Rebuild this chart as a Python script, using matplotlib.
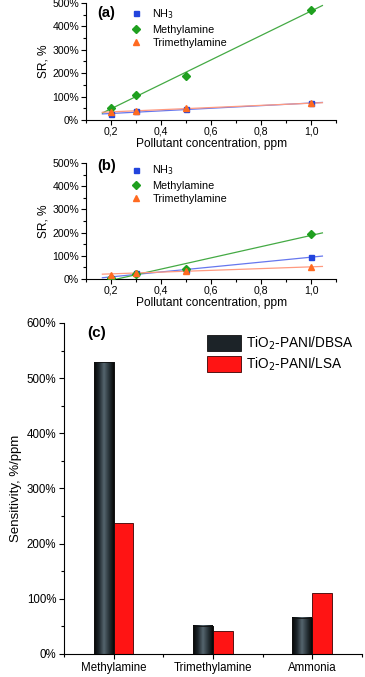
import numpy as np
import matplotlib
matplotlib.use('Agg')
import matplotlib.pyplot as plt
from matplotlib.colors import LinearSegmentedColormap
from matplotlib.patches import Patch
from matplotlib.ticker import MultipleLocator, FuncFormatter

plt.rcParams['font.family'] = ['Liberation Sans', 'DejaVu Sans']

# pollutant concentrations, ppm
conc = [0.2, 0.3, 0.5, 1.0]

# panel (a), SR %
a_nh3 = [24, 38, 45, 72]
a_methyl = [51, 108, 190, 470]
a_trimethyl = [33, 40, 51, 71]

# panel (b), SR %
b_nh3 = [6, 24, 39, 94]
b_methyl = [5, 22, 44, 196]
b_trimethyl = [19, 27, 36, 51]

# panel (c), sensitivity %/ppm
gases = ['Methylamine', 'Trimethylamine', 'Ammonia']
sens_dbsa = [529, 51, 66]
sens_lsa = [238, 42, 111]

fig = plt.figure(figsize=(3.65, 6.77), dpi=100)

pct = FuncFormatter(lambda v, p: f'{v:.0f}%')
comma = FuncFormatter(lambda v, p: f'{v:.1f}'.replace('.', ','))

def sr_panel(rect, nh3, methyl, trimethyl, tag, tag_y, leg_y):
    ax = fig.add_axes(rect)
    series = [
        (nh3, 's', '#2244dd', '#6677ee', 3.6, r'NH$_3$'),
        (methyl, 'D', '#1fa01f', '#44aa44', 4.2, 'Methylamine'),
        (trimethyl, '^', '#ff6a20', '#ff9a80', 4.6, 'Trimethylamine'),
    ]
    xfit = np.array([0.165, 1.045])
    for vals, mk, col, lcol, ms, lab in series:
        k, b = np.polyfit(conc, vals, 1)
        ax.plot(xfit, k * xfit + b, color=lcol, lw=0.9, zorder=2)
        ax.plot(conc, vals, ls='none', marker=mk, color=col, ms=ms, label=lab, zorder=3)
    ax.set_xlim(0.1, 1.1)
    ax.set_ylim(0, 500)
    ax.xaxis.set_major_locator(MultipleLocator(0.2))
    ax.xaxis.set_minor_locator(MultipleLocator(0.1))
    ax.yaxis.set_major_locator(MultipleLocator(100))
    ax.yaxis.set_minor_locator(MultipleLocator(50))
    ax.yaxis.set_major_formatter(pct)
    ax.xaxis.set_major_formatter(comma)
    for s in ['top', 'right']:
        ax.spines[s].set_visible(False)
    ax.tick_params(which='major', direction='out', length=3.5, width=0.8, labelsize=7.6, pad=1.5)
    ax.tick_params(which='minor', direction='out', length=2, width=0.8)
    ax.set_xlabel('Pollutant concentration, ppm', fontsize=8.6, labelpad=1)
    ax.set_ylabel('SR, %', fontsize=8.6, labelpad=2)
    ax.text(0.045, tag_y, tag, transform=ax.transAxes, fontsize=10.5, fontweight='bold', va='center')
    ax.legend(loc='upper left', bbox_to_anchor=(0.161, leg_y), frameon=False, fontsize=7.8,
              handlelength=1.0, handletextpad=1.0, labelspacing=0.32, borderaxespad=0)
    return ax

sr_panel([0.236, 0.8227, 0.685, 0.173], a_nh3, a_methyl, a_trimethyl, '(a)', 0.912, 1.0)
sr_panel([0.236, 0.588, 0.685, 0.171], b_nh3, b_methyl, b_trimethyl, '(b)', 0.975, 1.035)

# panel (c)
ax = fig.add_axes([0.175, 0.034, 0.817, 0.489])
x = np.arange(len(gases))
w = 0.2
dark = LinearSegmentedColormap.from_list('cyl', ['#050505', '#1e272c', '#55656e', '#2a353b', '#080808'])
grad = np.linspace(0, 1, 64).reshape(1, -1)

bars_d = ax.bar(x - w / 2, sens_dbsa, w, color='#1c2328', edgecolor='#111111', lw=0.6, zorder=2)
for r in bars_d:
    x0, h = r.get_x(), r.get_height()
    ax.imshow(grad, extent=[x0, x0 + w, 0, h], aspect='auto', cmap=dark, zorder=2.5)
    ax.add_patch(plt.Rectangle((x0, 0), w, h, fill=False, edgecolor='#111111', lw=0.6, zorder=3))
ax.bar(x + w / 2, sens_lsa, w, color='#ff1414', edgecolor='#3a0000', lw=0.6, zorder=2)

ax.set_xlim(-0.5, 2.5)
ax.set_ylim(0, 600)
ax.set_xticks(x)
ax.set_xticklabels(gases)
ax.set_xticks(np.arange(-0.5, 3.0, 1.0), minor=True)
ax.yaxis.set_major_locator(MultipleLocator(100))
ax.yaxis.set_minor_locator(MultipleLocator(50))
ax.yaxis.set_major_formatter(pct)
for s in ['top', 'right']:
    ax.spines[s].set_visible(False)
ax.tick_params(which='major', direction='out', length=3.5, width=0.8, labelsize=8.3, pad=2)
ax.tick_params(which='minor', direction='out', length=2, width=0.8)
ax.set_ylabel('Sensitivity, %/ppm', fontsize=9.5, labelpad=3)
ax.text(0.08, 0.97, '(c)', transform=ax.transAxes, fontsize=11, fontweight='bold', va='center')
handles = [Patch(facecolor='#1c2328', edgecolor='#111111', lw=0.6),
           Patch(facecolor='#ff1414', edgecolor='#3a0000', lw=0.6)]
ax.legend(handles, [r'TiO$_2$-PANI/DBSA', r'TiO$_2$-PANI/LSA'], loc='upper right',
          bbox_to_anchor=(1.0, 0.99), frameon=False, fontsize=9.8, handlelength=2.5,
          handleheight=1.4, handletextpad=0.4, labelspacing=0.25, borderaxespad=0.2)

fig.savefig('out.png', dpi=100)
